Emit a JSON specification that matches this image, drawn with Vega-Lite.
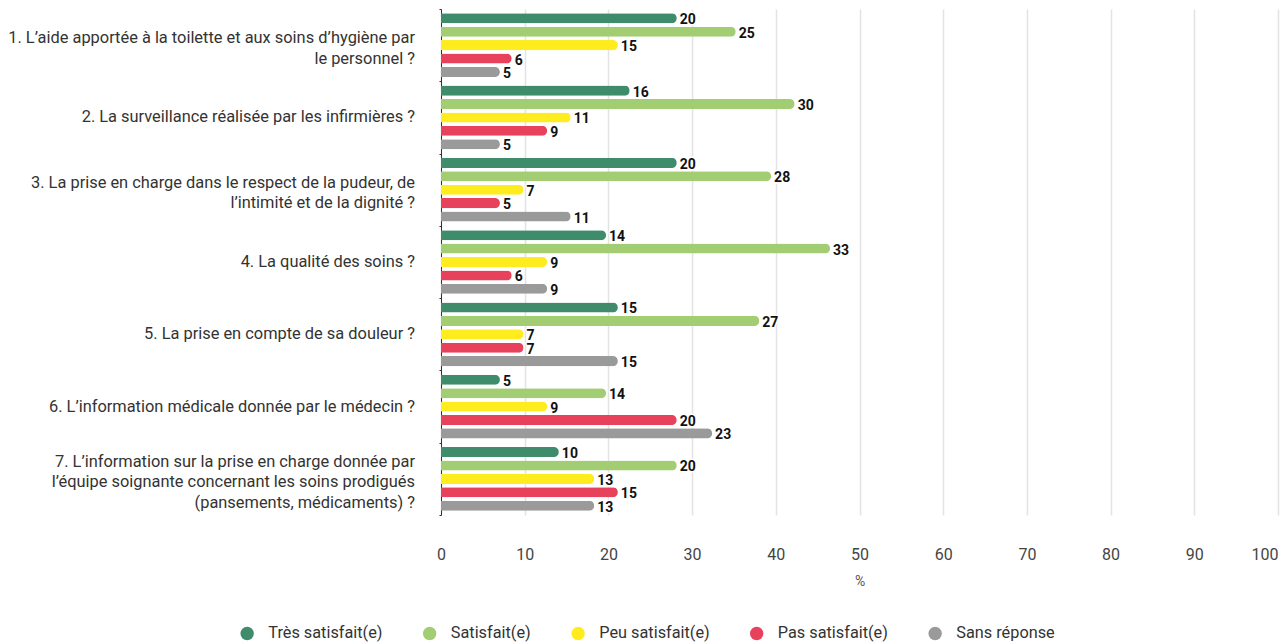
{
  "$schema": "https://vega.github.io/schema/vega-lite/v6.json",
  "width": 837,
  "height": 506,
  "autosize": {"type": "none"},
  "padding": {"left": 441, "top": 9, "right": 9, "bottom": 129},
  "background": "white",
  "config": {"view": {"stroke": null}, "font": "Roboto"},
  "data": {"values": [
    {"q": "1. L’aide apportée à la toilette et aux soins d’hygiène par|le personnel ?", "cat": "Très satisfait(e)", "pct": 28.17, "n": 20},
    {"q": "1. L’aide apportée à la toilette et aux soins d’hygiène par|le personnel ?", "cat": "Satisfait(e)", "pct": 35.21, "n": 25},
    {"q": "1. L’aide apportée à la toilette et aux soins d’hygiène par|le personnel ?", "cat": "Peu satisfait(e)", "pct": 21.13, "n": 15},
    {"q": "1. L’aide apportée à la toilette et aux soins d’hygiène par|le personnel ?", "cat": "Pas satisfait(e)", "pct": 8.45, "n": 6},
    {"q": "1. L’aide apportée à la toilette et aux soins d’hygiène par|le personnel ?", "cat": "Sans réponse", "pct": 7.04, "n": 5},
    {"q": "2. La surveillance réalisée par les infirmières ?", "cat": "Très satisfait(e)", "pct": 22.54, "n": 16},
    {"q": "2. La surveillance réalisée par les infirmières ?", "cat": "Satisfait(e)", "pct": 42.25, "n": 30},
    {"q": "2. La surveillance réalisée par les infirmières ?", "cat": "Peu satisfait(e)", "pct": 15.49, "n": 11},
    {"q": "2. La surveillance réalisée par les infirmières ?", "cat": "Pas satisfait(e)", "pct": 12.68, "n": 9},
    {"q": "2. La surveillance réalisée par les infirmières ?", "cat": "Sans réponse", "pct": 7.04, "n": 5},
    {"q": "3. La prise en charge dans le respect de la pudeur, de|l’intimité et de la dignité ?", "cat": "Très satisfait(e)", "pct": 28.17, "n": 20},
    {"q": "3. La prise en charge dans le respect de la pudeur, de|l’intimité et de la dignité ?", "cat": "Satisfait(e)", "pct": 39.44, "n": 28},
    {"q": "3. La prise en charge dans le respect de la pudeur, de|l’intimité et de la dignité ?", "cat": "Peu satisfait(e)", "pct": 9.86, "n": 7},
    {"q": "3. La prise en charge dans le respect de la pudeur, de|l’intimité et de la dignité ?", "cat": "Pas satisfait(e)", "pct": 7.04, "n": 5},
    {"q": "3. La prise en charge dans le respect de la pudeur, de|l’intimité et de la dignité ?", "cat": "Sans réponse", "pct": 15.49, "n": 11},
    {"q": "4. La qualité des soins ?", "cat": "Très satisfait(e)", "pct": 19.72, "n": 14},
    {"q": "4. La qualité des soins ?", "cat": "Satisfait(e)", "pct": 46.48, "n": 33},
    {"q": "4. La qualité des soins ?", "cat": "Peu satisfait(e)", "pct": 12.68, "n": 9},
    {"q": "4. La qualité des soins ?", "cat": "Pas satisfait(e)", "pct": 8.45, "n": 6},
    {"q": "4. La qualité des soins ?", "cat": "Sans réponse", "pct": 12.68, "n": 9},
    {"q": "5. La prise en compte de sa douleur ?", "cat": "Très satisfait(e)", "pct": 21.13, "n": 15},
    {"q": "5. La prise en compte de sa douleur ?", "cat": "Satisfait(e)", "pct": 38.03, "n": 27},
    {"q": "5. La prise en compte de sa douleur ?", "cat": "Peu satisfait(e)", "pct": 9.86, "n": 7},
    {"q": "5. La prise en compte de sa douleur ?", "cat": "Pas satisfait(e)", "pct": 9.86, "n": 7},
    {"q": "5. La prise en compte de sa douleur ?", "cat": "Sans réponse", "pct": 21.13, "n": 15},
    {"q": "6. L’information médicale donnée par le médecin ?", "cat": "Très satisfait(e)", "pct": 7.04, "n": 5},
    {"q": "6. L’information médicale donnée par le médecin ?", "cat": "Satisfait(e)", "pct": 19.72, "n": 14},
    {"q": "6. L’information médicale donnée par le médecin ?", "cat": "Peu satisfait(e)", "pct": 12.68, "n": 9},
    {"q": "6. L’information médicale donnée par le médecin ?", "cat": "Pas satisfait(e)", "pct": 28.17, "n": 20},
    {"q": "6. L’information médicale donnée par le médecin ?", "cat": "Sans réponse", "pct": 32.39, "n": 23},
    {"q": "7. L’information sur la prise en charge donnée par|l’équipe soignante concernant les soins prodigués|(pansements, médicaments) ?", "cat": "Très satisfait(e)", "pct": 14.08, "n": 10},
    {"q": "7. L’information sur la prise en charge donnée par|l’équipe soignante concernant les soins prodigués|(pansements, médicaments) ?", "cat": "Satisfait(e)", "pct": 28.17, "n": 20},
    {"q": "7. L’information sur la prise en charge donnée par|l’équipe soignante concernant les soins prodigués|(pansements, médicaments) ?", "cat": "Peu satisfait(e)", "pct": 18.31, "n": 13},
    {"q": "7. L’information sur la prise en charge donnée par|l’équipe soignante concernant les soins prodigués|(pansements, médicaments) ?", "cat": "Pas satisfait(e)", "pct": 21.13, "n": 15},
    {"q": "7. L’information sur la prise en charge donnée par|l’équipe soignante concernant les soins prodigués|(pansements, médicaments) ?", "cat": "Sans réponse", "pct": 18.31, "n": 13}
  ]},
  "encoding": {
    "y": {
      "field": "q", "type": "nominal", "sort": null,
      "scale": {"paddingInner": 0, "paddingOuter": 0},
      "axis": {
        "title": null,
        "labels": false,
        "domain": true,
        "domainColor": "#333333",
        "domainWidth": 1,
        "ticks": true,
        "tickBand": "extent",
        "tickSize": 2,
        "tickColor": "#333333",
        "grid": false
      }
    },
    "x": {
      "field": "pct", "type": "quantitative",
      "scale": {"domain": [0, 100], "nice": false},
      "axis": {
        "title": "%",
        "titleFont": "Roboto",
        "titleFontSize": 14,
        "titleFontWeight": "normal",
        "titleColor": "#555555",
        "titlePadding": 12,
        "values": [0, 10, 20, 30, 40, 50, 60, 70, 80, 90, 100],
        "labelFont": "Roboto",
        "labelFontSize": 16,
        "labelColor": "#444444",
        "labelPadding": 31,
        "labelFlush": false,
        "labelAlign": {"condition": {"test": "datum.value == 100", "value": "right"}, "value": "center"},
        "domain": false,
        "ticks": false,
        "grid": true,
        "gridColor": "#e3e3e3",
        "gridWidth": 1.5
      }
    }
  },
  "layer": [
    {
      "mark": {"type": "bar", "cornerRadiusEnd": 5},
      "encoding": {
        "yOffset": {
          "field": "cat", "type": "nominal",
          "scale": {"domain": ["Très satisfait(e)", "Satisfait(e)", "Peu satisfait(e)", "Pas satisfait(e)", "Sans réponse"], "paddingInner": 0.25, "paddingOuter": 0.32}
        },
        "color": {
          "field": "cat", "type": "nominal",
          "scale": {
            "domain": ["Très satisfait(e)", "Satisfait(e)", "Peu satisfait(e)", "Pas satisfait(e)", "Sans réponse"],
            "range": ["#3f8c6c", "#a3cd73", "#ffec1f", "#e8415b", "#9a9a9a"]
          },
          "legend": {
            "title": null,
            "orient": "none",
            "direction": "horizontal",
            "legendX": -202,
            "legendY": 616,
            "symbolType": "circle",
            "symbolSize": 180,
            "symbolStrokeWidth": 0,
            "labelFont": "Roboto",
            "labelFontSize": 16.3,
            "labelColor": "#333333",
            "labelOffset": 13,
            "columnPadding": 38.5,
            "labelLimit": 0
          }
        }
      }
    },
    {
      "mark": {"type": "text", "align": "left", "baseline": "middle", "dx": 3, "dy": 2, "font": "Roboto", "fontSize": 14, "fontWeight": "bold", "fill": "white", "stroke": "white", "strokeWidth": 3, "strokeJoin": "round"},
      "encoding": {
        "yOffset": {"field": "cat", "type": "nominal"},
        "text": {"field": "n", "type": "quantitative"}
      }
    },
    {
      "mark": {"type": "text", "align": "left", "baseline": "middle", "dx": 3, "dy": 2, "font": "Roboto", "fontSize": 14, "fontWeight": "bold", "fill": "#111111"},
      "encoding": {
        "yOffset": {"field": "cat", "type": "nominal"},
        "text": {"field": "n", "type": "quantitative"}
      }
    },
    {
      "transform": [{"filter": "datum.cat == 'Très satisfait(e)' && indexof(datum.q, '|') < 0"}],
      "mark": {"type": "text", "align": "right", "baseline": "middle", "dx": -26, "dy": 0, "lineBreak": "|", "lineHeight": 20.5, "font": "Roboto", "fontSize": 16.4, "fill": "#333333"},
      "encoding": {"x": {"datum": 0}, "text": {"field": "q", "type": "nominal"}}
    },
    {
      "transform": [{"filter": "datum.cat == 'Très satisfait(e)' && indexof(datum.q, '|') >= 0 && indexof(datum.q, 'pansements') < 0"}],
      "mark": {"type": "text", "align": "right", "baseline": "middle", "dx": -26, "dy": -7, "lineBreak": "|", "lineHeight": 20.5, "font": "Roboto", "fontSize": 16.4, "fill": "#333333"},
      "encoding": {"x": {"datum": 0}, "text": {"field": "q", "type": "nominal"}}
    },
    {
      "transform": [{"filter": "datum.cat == 'Très satisfait(e)' && indexof(datum.q, 'pansements') >= 0"}],
      "mark": {"type": "text", "align": "right", "baseline": "middle", "dx": -26, "dy": -17, "lineBreak": "|", "lineHeight": 20.5, "font": "Roboto", "fontSize": 16.4, "fill": "#333333"},
      "encoding": {"x": {"datum": 0}, "text": {"field": "q", "type": "nominal"}}
    }
  ]
}
